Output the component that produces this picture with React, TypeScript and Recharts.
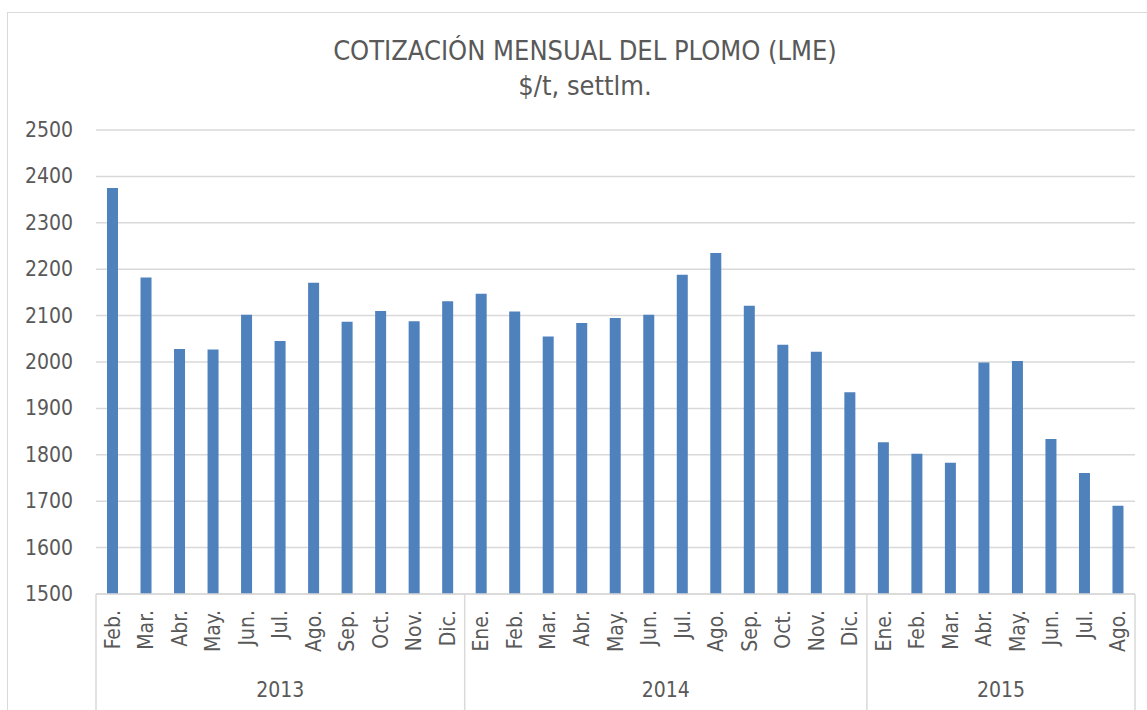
import React from 'react';
import { BarChart, Bar, XAxis, YAxis, CartesianGrid } from 'recharts';

// Cotización mensual del plomo (LME), $/t settlement
const years = ['2013', '2014', '2015'];
const months2013 = ['Feb.', 'Mar.', 'Abr.', 'May.', 'Jun.', 'Jul.', 'Ago.', 'Sep.', 'Oct.', 'Nov.', 'Dic.'];
const months2014 = ['Ene.', 'Feb.', 'Mar.', 'Abr.', 'May.', 'Jun.', 'Jul.', 'Ago.', 'Sep.', 'Oct.', 'Nov.', 'Dic.'];
const months2015 = ['Ene.', 'Feb.', 'Mar.', 'Abr.', 'May.', 'Jun.', 'Jul.', 'Ago.'];
const values2013 = [2375, 2182, 2028, 2027, 2102, 2045, 2171, 2087, 2110, 2088, 2131];
const values2014 = [2147, 2109, 2055, 2084, 2095, 2102, 2188, 2235, 2121, 2037, 2022, 1935];
const values2015 = [1827, 1802, 1783, 1999, 2002, 1834, 1761, 1690];
const yTicks = [1500, 1600, 1700, 1800, 1900, 2000, 2100, 2200, 2300, 2400, 2500];

const monthsByYear = [months2013, months2014, months2015];
const valuesByYear = [values2013, values2014, values2015];

const data = years.flatMap((year, g) =>
  monthsByYear[g].map((month, i) => ({
    key: `${month} ${year}`,
    month,
    year,
    price: valuesByYear[g][i],
  }))
);

const FONT = "'DejaVu Sans Condensed', 'DejaVu Sans', sans-serif";
const TEXT = '#595959';
const GRID = '#d9d9d9';

const CHART_W = 1147;
const CHART_H = 710;
const MARGIN = { top: 130, right: 12, bottom: 0, left: 0 };
const Y_AXIS_W = 96;
const X_AXIS_H = 116;
const BAND = (CHART_W - MARGIN.left - MARGIN.right - Y_AXIS_W) / data.length;

const YTick = (props: any) => {
  const { y, payload } = props;
  return (
    <text x={73} y={y} textAnchor="end" dominantBaseline="central" fill={TEXT} fontSize={21} fontFamily={FONT}>
      {payload.value}
    </text>
  );
};

const MonthTick = (props: any) => {
  const { x, y, index } = props;
  const d = data[index];
  if (!d) return null;
  const isStart = index === 0 || data[index - 1].year !== d.year;
  const isLast = index === data.length - 1;
  const count = data.filter((r) => r.year === d.year).length;
  const ly = y + 16;
  return (
    <g>
      <text
        x={x}
        y={ly}
        transform={`rotate(-90 ${x} ${ly})`}
        textAnchor="end"
        dominantBaseline="central"
        fill={TEXT}
        fontSize={21}
        fontFamily={FONT}
      >
        {d.month}
      </text>
      {isStart && (
        <>
          <line x1={x - BAND / 2} x2={x - BAND / 2} y1={y} y2={CHART_H} stroke={GRID} strokeWidth={1.5} />
          <text
            x={x + ((count - 1) / 2) * BAND}
            y={y + 96}
            textAnchor="middle"
            dominantBaseline="central"
            fill={TEXT}
            fontSize={21}
            fontFamily={FONT}
          >
            {d.year}
          </text>
        </>
      )}
      {isLast && <line x1={x + BAND / 2} x2={x + BAND / 2} y1={y} y2={CHART_H} stroke={GRID} strokeWidth={1.5} />}
    </g>
  );
};

export default function App() {
  return (
    <div style={{ position: 'fixed', left: 0, top: 0, width: CHART_W, height: CHART_H, overflow: 'hidden', background: '#fff' }}>
      <div
        style={{
          position: 'absolute',
          left: 7,
          top: 12,
          width: 1300,
          height: 900,
          border: `1px solid ${GRID}`,
        }}
      />
      <div
        style={{
          position: 'absolute',
          left: 0,
          width: 1170,
          top: 33,
          textAlign: 'center',
          color: TEXT,
          fontFamily: FONT,
          fontSize: 27,
          lineHeight: '35px',
        }}
      >
        <div>COTIZACIÓN MENSUAL DEL PLOMO (LME)</div>
        <div>$/t, settlm.</div>
      </div>
      <div style={{ position: 'absolute', left: 0, top: 0 }}>
        <BarChart width={CHART_W} height={CHART_H} data={data} margin={MARGIN} barSize={11}>
          <CartesianGrid vertical={false} stroke={GRID} strokeWidth={1.5} />
          <XAxis
            dataKey="key"
            interval={0}
            height={X_AXIS_H}
            tickSize={0}
            tickMargin={0}
            tickLine={false}
            axisLine={{ stroke: GRID, strokeWidth: 1.5 }}
            tick={<MonthTick />}
          />
          <YAxis
            width={Y_AXIS_W}
            domain={[1500, 2500]}
            ticks={yTicks}
            interval={0}
            tickLine={false}
            axisLine={false}
            tick={<YTick />}
          />
          <Bar dataKey="price" fill="#4f81bd" isAnimationActive={false} />
        </BarChart>
      </div>
    </div>
  );
}
